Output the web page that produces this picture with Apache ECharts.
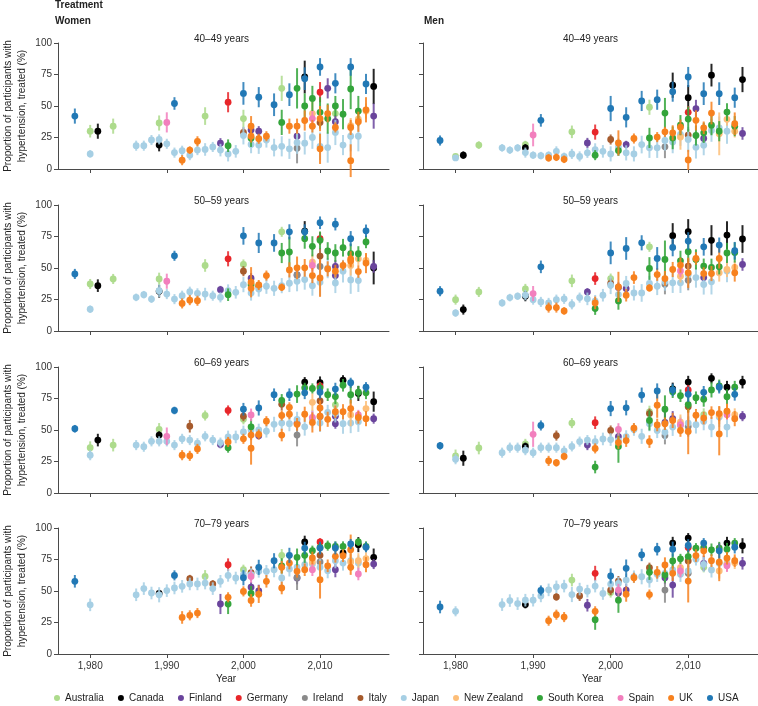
<!DOCTYPE html>
<html><head><meta charset="utf-8">
<script src="https://cdn.jsdelivr.net/npm/echarts@6.0.0/dist/echarts.min.js"></script>
<style>html,body{margin:0;padding:0;background:#fff}#c{width:758px;height:706px}</style>
</head><body><div id="c"></div>
<script>
const countries = ['AUS','CAN','FIN','GER','IRL','ITA','JPN','NZL','KOR','ESP','UK','USA'];
const countryNames = ['Australia','Canada','Finland','Germany','Ireland','Italy','Japan','New Zealand','South Korea','Spain','UK','USA'];
const countryColors = ['#addb8c','#000000','#6a449c','#e8262a','#8a8a8a','#a65a2c','#a6cfe4','#fdbe78','#33a43a','#f27fbd','#f7811e','#2178b5'];
const xTicks = [1980,1990,2000,2010];
const ageTitles = ['40–49 years','50–59 years','60–69 years','70–79 years'];

// [country, year, proportion treated (%), half-width of uncertainty]
const women4049 = [
['USA',1978,42,6],['JPN',1980,12,3],['AUS',1980,30,5],['CAN',1981,30,6],['AUS',1983,34,6],
['JPN',1986,18.5,4],['JPN',1987,18.5,4],['JPN',1988,23,4],['JPN',1989,23.5,4],['AUS',1989,36.5,6],['CAN',1989,19,5],
['ESP',1990,37,8],['JPN',1990,20,4],['USA',1991,52,5],['JPN',1991,13,4],['UK',1992,7,4],['JPN',1992,14.5,4],
['UK',1993,15,3],['JPN',1993,11,4],['UK',1994,22,4],['JPN',1994,15,4],['AUS',1995,42,7],['JPN',1995,15.5,5],
['JPN',1996,17.5,4],['FIN',1997,20.5,4],['JPN',1997,15,5],['GER',1998,53,8],['KOR',1998,18.5,5],['JPN',1998,12,6],
['JPN',1999,14,5],['USA',2000,60,9],['AUS',2000,40,7],['ITA',2000,29,4],['JPN',2000,26.5,7],
['UK',2001,34,8],['UK',2001,26,5],['FIN',2001,31,5],['KOR',2001,24.5,7],['JPN',2001,19.5,7],
['USA',2002,57,8],['FIN',2002,30,4],['UK',2002,24,4],['JPN',2002,19,7],['UK',2003,26,4],['JPN',2003,23,6],
['USA',2004,51,9],['JPN',2004,17,7],['AUS',2005,64,10],['KOR',2005,37,10],['JPN',2005,18,8],
['USA',2006,59,9],['UK',2006,34,6],['JPN',2006,16,8],['KOR',2007,64,16],['FIN',2007,26,5],['UK',2007,34,6],['IRL',2007,16.5,12],['JPN',2007,21,9],
['CAN',2008,73,13],['USA',2008,71.7,9],['KOR',2008,50,10],['UK',2008,38.5,8],['JPN',2008,20.5,9],
['KOR',2009,56,10],['NZL',2009,44,10],['ESP',2009,40,6],['UK',2009,34,5],['JPN',2009,25,9],
['USA',2010,81,7],['GER',2010,61,8],['KOR',2010,45,12],['UK',2010,40,10],['ITA',2010,37,5],['UK',2010,16,12],['JPN',2010,18,11],
['FIN',2011,64,8],['KOR',2011,40,12],['UK',2011,44,7],['JPN',2011,17,12],
['USA',2012,68,8],['KOR',2012,50,8],['AUS',2012,44,8],['FIN',2012,37.5,5],['UK',2012,33,4],['JPN',2012,29,10],
['KOR',2013,43.5,12],['JPN',2013,19,8],
['USA',2014,81,7],['KOR',2014,63.5,16],['NZL',2014,34.5,6],['UK',2014,33,6],['UK',2014,6.6,13],['JPN',2014,26,12],
['KOR',2015,46,12],['NZL',2015,39.5,4],['UK',2015,37.5,8],['JPN',2015,26,12],
['USA',2016,67.5,8],['NZL',2016,46,6],['UK',2016,47,10],['CAN',2017,65.5,14],['FIN',2017,42,10]
];
const men4049 = [
['USA',1978,22.6,4],['JPN',1980,8.8,2],['AUS',1980,10,2],['CAN',1981,11,3],['AUS',1983,19,3],
['JPN',1986,16.8,3],['JPN',1987,15,3],['JPN',1988,16.8,3],['AUS',1989,19.4,3],['CAN',1989,16.8,3],['JPN',1989,13,4],
['ESP',1990,27,9],['JPN',1990,11,3],['USA',1991,38.6,5],['JPN',1991,10.6,3],['UK',1992,8.8,3],['JPN',1992,11,3],
['UK',1993,9.3,3],['JPN',1993,14,4],['UK',1994,7.7,3],['JPN',1994,10,3],['AUS',1995,29.5,5],['JPN',1995,12,4],
['JPN',1996,10,4],['FIN',1997,20.7,4],['JPN',1997,12.8,4],['GER',1998,29.3,6],['KOR',1998,11,4],['JPN',1998,15.4,5],
['JPN',1999,14,5],['USA',2000,48,10],['ITA',2000,23.4,4],['JPN',2000,12,6],['UK',2001,20.7,10],['KOR',2001,14.6,4],['JPN',2001,17.3,7],
['USA',2002,41,8],['FIN',2002,19.4,3],['JPN',2002,12.8,6],['UK',2003,24.2,4],['JPN',2003,12,6],['USA',2004,54,8],['JPN',2004,19.4,7],
['AUS',2005,49,6],['KOR',2005,24.7,8],['JPN',2005,16.8,8],['USA',2006,55,8],['UK',2006,25.3,4],['JPN',2006,16.8,8],
['KOR',2007,44.4,12],['UK',2007,29.5,4],['JPN',2007,22.6,8],['IRL',2007,17.6,9],
['CAN',2008,66.5,10],['USA',2008,61.4,8],['UK',2008,28.7,6],['KOR',2008,24.7,9],['JPN',2008,21.5,9],
['KOR',2009,34.8,8],['UK',2009,33.2,6],['NZL',2009,25.3,10],['JPN',2009,27.4,9],
['USA',2010,73,8],['CAN',2010,56.6,10],['GER',2010,45,5],['KOR',2010,39.6,10],['ITA',2010,26.9,5],['UK',2010,7.2,8],['JPN',2010,23.4,10],
['FIN',2011,47.9,7],['UK',2011,38.6,8],['KOR',2011,26.6,8],['JPN',2011,17.3,9],
['USA',2012,59.8,9],['UK',2012,32.7,5],['KOR',2012,28.7,8],['FIN',2012,24.2,5],['JPN',2012,18.9,8],
['CAN',2013,74.5,9],['UK',2013,44.4,9],['KOR',2013,34.8,8],['JPN',2013,30.6,9],
['USA',2014,59.8,9],['JPN',2014,32.7,9],['KOR',2014,30,8],['NZL',2014,27.9,17],
['KOR',2015,45.2,7],['NZL',2015,39.4,5],['JPN',2015,30,10],
['USA',2016,56.6,8],['UK',2016,35.9,9],['KOR',2016,34,8],['NZL',2016,30,5],['CAN',2017,71,10],['FIN',2017,28.2,5]
];
const women5059 = [
['USA',1978,45.3,4],['AUS',1980,37.3,4],['JPN',1980,17.3,3],['CAN',1981,36,5],['AUS',1983,41.3,4],
['JPN',1986,26.7,3],['JPN',1987,28.8,3],['JPN',1988,25.3,3],['AUS',1989,41.3,5],['JPN',1989,32,5],['CAN',1989,31.5,5],
['ESP',1990,39.5,6],['JPN',1990,29.3,4],['USA',1991,59.7,4],['JPN',1991,25.3,4],['UK',1992,21.9,4],['JPN',1992,28,4],
['UK',1993,24.5,4],['JPN',1993,31.2,4],['UK',1994,24,4],['JPN',1994,29.9,4],['AUS',1995,52,5],['JPN',1995,29.3,5],
['JPN',1996,28,4],['FIN',1997,32.8,3],['JPN',1997,26.7,4],['GER',1998,57.3,6],['KOR',1998,28.8,5],['JPN',1998,32,5],
['JPN',1999,30.7,5],['USA',2000,75.5,7],['AUS',2000,52.8,4],['ITA',2000,47.5,4],['JPN',2000,36.8,6],
['FIN',2001,41.9,4],['KOR',2001,36.5,6],['UK',2001,38.7,12],['UK',2001,33.9,4],['JPN',2001,30.1,6],
['USA',2002,69.9,8],['UK',2002,36.5,4],['ITA',2002,35.5,3],['JPN',2002,33.3,6],['UK',2003,44,4],['JPN',2003,35.5,6],
['USA',2004,69.9,7],['JPN',2004,33.9,6],['AUS',2005,78.7,4],['KOR',2005,61.9,8],['UK',2005,34.7,3],['JPN',2005,36,6],
['USA',2006,78.7,6],['KOR',2006,62.7,12],['UK',2006,48.5,6],['JPN',2006,37.9,7],
['IRL',2007,44.5,6],['FIN',2007,44.5,5],['UK',2007,50.1,9],['JPN',2007,39.5,8],
['CAN',2008,79.2,8],['USA',2008,78.7,6],['KOR',2008,73.3,8],['UK',2008,50.1,7],['JPN',2008,40.8,8],
['KOR',2009,67.2,8],['NZL',2009,54.7,6],['ESP',2009,52,5],['UK',2009,44,6],['JPN',2009,36,8],
['USA',2010,85.9,5],['GER',2010,73.3,5],['KOR',2010,72,7],['ITA',2010,59.5,6],['IRL',2010,51.2,8],['UK',2010,42.1,15],['JPN',2010,38.7,11],
['KOR',2011,63.5,7],['JPN',2011,49.9,8],['UK',2011,49.3,6],
['USA',2012,84.8,5],['KOR',2012,61.9,7],['FIN',2012,51.2,5],['UK',2012,47.5,5],['FIN',2012,44,4],['JPN',2012,38.1,8],
['KOR',2013,66.1,7],['UK',2013,52,4],['JPN',2013,47.5,9],
['USA',2014,73.3,6],['KOR',2014,61.3,8],['UK',2014,57.3,6],['UK',2014,55.5,5],['NZL',2014,52,8],['JPN',2014,40.5,11],
['KOR',2015,61.3,6],['NZL',2015,57.3,5],['UK',2015,47.2,5],['JPN',2015,40,9],
['USA',2016,79.5,5],['KOR',2016,70.7,5],['NZL',2016,56,5],['UK',2016,53.9,8],['CAN',2017,50,13],['FIN',2017,51.2,5]
];
const men5059 = [
['USA',1978,31.6,4],['AUS',1980,24.9,4],['JPN',1980,14.3,3],['CAN',1981,17,4],['AUS',1983,31,4],
['JPN',1986,22.3,3],['JPN',1987,26.5,3],['JPN',1988,27.6,3],['AUS',1989,33.4,4],['CAN',1989,27.6,4],['JPN',1989,28.4,4],
['ESP',1990,29.7,6],['JPN',1990,24.9,4],['USA',1991,50.9,5],['JPN',1991,23.1,4],['UK',1992,18.6,4],['JPN',1992,22.3,4],
['UK',1993,18.6,4],['JPN',1993,24.9,4],['UK',1994,15.9,3],['JPN',1994,25.5,4],['AUS',1995,39.8,5],['JPN',1995,21.2,4],
['JPN',1996,26.5,4],['FIN',1997,31,3],['JPN',1997,25.5,5],['GER',1998,41.6,5],['KOR',1998,17.8,5],['UK',1998,22.3,5],['JPN',1998,23.6,5],
['JPN',1999,28.4,5],['USA',2000,62,9],['AUS',2000,41.6,4],['ITA',2000,37.7,4],['JPN',2000,36.3,7],
['UK',2001,35,12],['KOR',2001,23.9,7],['FIN',2001,34.5,4],['JPN',2001,28.9,6],
['USA',2002,65.5,9],['FIN',2002,33.7,3],['UK',2002,28.4,5],['JPN',2002,37.7,6],['UK',2003,42.4,5],['JPN',2003,30.2,6],
['USA',2004,70,6],['JPN',2004,30.2,7],['AUS',2005,66.8,4],['KOR',2005,49.6,9],['UK',2005,34.2,3],['JPN',2005,37.7,6],
['USA',2006,57.6,9],['UK',2006,44.8,5],['JPN',2006,35.5,7],
['KOR',2007,56.8,15],['UK',2007,41.6,6],['IRL',2007,37.1,8],['JPN',2007,39,7],
['CAN',2008,75.6,10],['USA',2008,66.3,7],['UK',2008,48.8,6],['JPN',2008,38.2,8],
['KOR',2009,55.7,8],['UK',2009,52.3,6],['ESP',2009,47.7,5],['NZL',2009,43.5,5],['JPN',2009,38.2,8],
['CAN',2010,78.8,10],['USA',2010,71.4,7],['KOR',2010,62.9,8],['ITA',2010,51.5,6],['UK',2010,46.2,12],['IRL',2010,40.3,8],['JPN',2010,44.8,8],
['KOR',2011,56.8,8],['UK',2011,57.6,5],['JPN',2011,42.4,8],
['USA',2012,66.8,7],['KOR',2012,51.5,6],['UK',2012,45.6,5],['FIN',2012,42.4,5],['JPN',2012,36.9,8],
['CAN',2013,72,12],['KOR',2013,50.4,7],['UK',2013,45.6,6],['JPN',2013,39,10],
['USA',2014,68.2,6],['UK',2014,57.6,8],['KOR',2014,50.9,6],['NZL',2014,46.2,7],
['CAN',2015,76.1,11],['KOR',2015,62,8],['NZL',2015,48.8,6],['JPN',2015,47.7,9],
['USA',2016,63.7,7],['KOR',2016,62.3,8],['NZL',2016,50.4,5],['UK',2016,46.2,7],['CAN',2017,73,11],['FIN',2017,52.8,5]
];
const women6069 = [
['USA',1978,51,3],['AUS',1980,36,5],['JPN',1980,30,4],['CAN',1981,42,5],['AUS',1983,38,5],
['JPN',1986,38,4],['JPN',1987,36.7,4],['JPN',1988,41,4],['AUS',1989,50.5,5],['CAN',1989,46,3],['JPN',1989,41,4],
['ESP',1990,45,7],['JPN',1990,41,4],['USA',1991,65.5,3],['JPN',1991,38,4],['UK',1992,30,4],['JPN',1992,43,4],
['ITA',1993,53,5],['UK',1993,29.5,4],['JPN',1993,42,4],['UK',1994,35,4],['JPN',1994,39.5,4],['AUS',1995,61.5,4],['JPN',1995,45,4],
['JPN',1996,42,4],['FIN',1997,38.5,3],['JPN',1997,40,4],['GER',1998,65.5,4],['KOR',1998,36,4],['UK',1998,40.5,4],['JPN',1998,44.5,5],
['JPN',1999,44.5,5],['USA',2000,66.5,5],['AUS',2000,58.5,4],['ITA',2000,61,4],['UK',2000,43,4],['JPN',2000,48.5,5],
['ESP',2001,62,5],['KOR',2001,52.5,6],['UK',2001,35.5,13],['UK',2001,46,4],['JPN',2001,50,5],
['USA',2002,67.5,6],['FIN',2002,45.5,3],['UK',2002,46.5,4],['JPN',2002,50,5],['UK',2003,57,4],['JPN',2003,49,5],
['USA',2004,78,5],['JPN',2004,54.5,6],['KOR',2005,73.5,5],['ITA',2005,70.5,5],['UK',2005,61.5,4],['UK',2005,46,5],['JPN',2005,55.5,6],
['USA',2006,78,5],['UK',2006,68,4],['UK',2006,62.5,4],['JPN',2006,55,6],
['KOR',2007,78.5,7],['FIN',2007,55.5,4],['UK',2007,54.5,5],['IRL',2007,46,9],['JPN',2007,58.5,6],
['CAN',2008,88,4],['KOR',2008,83.5,4],['USA',2008,79.5,5],['UK',2008,62.5,6],['JPN',2008,52.5,7],
['KOR',2009,83,4],['NZL',2009,72,7],['ESP',2009,60,5],['UK',2009,56,8],['JPN',2009,59,7],
['CAN',2010,87.5,5],['GER',2010,85,3],['KOR',2010,83.5,4],['USA',2010,80,5],['ITA',2010,73,5],['UK',2010,67.5,6],['UK',2010,61,12],['IRL',2010,60.5,6],['JPN',2010,55.5,7],
['KOR',2011,78,5],['UK',2011,58.5,6],['JPN',2011,64,6],
['USA',2012,82.5,5],['KOR',2012,76.5,6],['AUS',2012,70,5],['UK',2012,64.5,5],['FIN',2012,61,5],['FIN',2012,55,4],['JPN',2012,63,7],
['CAN',2013,89.5,4],['KOR',2013,85.5,5],['UK',2013,64.5,6],['JPN',2013,55,8],
['USA',2014,87.5,4],['KOR',2014,78,7],['UK',2014,67,7],['NZL',2014,62,9],['JPN',2014,55.5,8],
['CAN',2015,79,6],['KOR',2015,80,5],['ESP',2015,62,4],['UK',2015,60,5],['JPN',2015,56.5,8],
['USA',2016,84,4],['KOR',2016,79.5,5],['NZL',2016,67,6],['UK',2016,59,6],['CAN',2017,72.5,8],['FIN',2017,59,4]
];
const men6069 = [
['USA',1978,37.5,3],['AUS',1980,29.5,5],['JPN',1980,26.8,4],['CAN',1981,27.6,6],['AUS',1983,35.7,5],
['JPN',1986,32,4],['JPN',1987,36,4],['JPN',1988,36,4],['AUS',1989,39,4],['CAN',1989,37,3],['JPN',1989,34,4],
['ESP',1990,46.6,10],['JPN',1990,32,4],['USA',1991,53.6,4],['JPN',1991,36,4],['UK',1992,25.5,4],['JPN',1992,36,4],
['ITA',1993,45.6,4],['UK',1993,24,3],['JPN',1993,36,4],['UK',1994,29,3],['JPN',1994,33.5,4],['AUS',1995,55.5,4],['JPN',1995,37,4],
['JPN',1996,40.8,4],['FIN',1997,38,4],['JPN',1997,42,4],['GER',1998,55.8,5],['KOR',1998,20.6,5],['UK',1998,35.4,4],['JPN',1998,40.8,5],
['JPN',1999,42.9,5],['USA',2000,67,6],['ITA',2000,49.6,4],['JPN',2000,42.4,5],
['ESP',2001,50.4,5],['FIN',2001,44.8,4],['KOR',2001,37,13],['UK',2001,40,5],['JPN',2001,41.6,5],
['USA',2002,67.6,6],['UK',2002,41.6,5],['JPN',2002,44.8,5],['UK',2003,51.5,4],['JPN',2003,50.4,5],
['USA',2004,77.7,6],['JPN',2004,45,6],['AUS',2005,64.3,5],['ITA',2005,63,4],['KOR',2005,57.6,8],['UK',2005,40.8,5],['JPN',2005,55,6],
['USA',2006,81,6],['UK',2006,69.7,10],['UK',2006,54,5],['JPN',2006,49.6,6],
['KOR',2007,66.5,11],['FIN',2007,56,10],['UK',2007,55,5],['IRL',2007,45.6,7],['JPN',2007,48.3,6],
['CAN',2008,82.6,5],['USA',2008,81.8,5],['KOR',2008,80.4,5],['FIN',2008,59,6],['UK',2008,57.6,6],['JPN',2008,52.3,7],
['KOR',2009,77.2,5],['NZL',2009,56.3,6],['ESP',2009,54.2,5],['UK',2009,49.6,5],['JPN',2009,53.6,7],
['CAN',2010,88,5],['GER',2010,81.8,4],['USA',2010,78.3,6],['KOR',2010,70.2,6],['ITA',2010,68.4,5],['IRL',2010,52.8,8],['UK',2010,48.8,18],['JPN',2010,55.5,8],
['KOR',2011,75.6,5],['UK',2011,61.7,5],['JPN',2011,54.2,7],
['USA',2012,79.9,5],['KOR',2012,74.5,6],['AUS',2012,62.2,5],['UK',2012,59.5,5],['JPN',2012,56.8,7],
['CAN',2013,91,4],['KOR',2013,81.8,6],['UK',2013,63.8,5],['JPN',2013,52.3,8],
['USA',2014,84,5],['KOR',2014,85,5],['UK',2014,63,6],['NZL',2014,61.7,7],['UK',2014,46.9,17],['JPN',2014,60.3,8],
['CAN',2015,84,5],['KOR',2015,76.4,6],['UK',2015,64.9,6],['NZL',2015,64.3,6],['ESP',2015,62.2,4],['JPN',2015,52.3,8],
['KOR',2016,84,5],['USA',2016,78.3,5],['NZL',2016,62.2,5],['UK',2016,59,6],['CAN',2017,88,5],['FIN',2017,61,4]
];
const women7079 = [
['USA',1978,57.7,5],['JPN',1980,39,5],
['JPN',1986,47,5],['JPN',1987,51.9,5],['JPN',1988,48.4,5],['CAN',1989,48,3],['JPN',1989,47,6],['JPN',1990,50.3,5],
['USA',1991,62.4,4],['JPN',1991,52.4,5],['UK',1992,29,5],['JPN',1992,53.7,5],['ITA',1993,59.8,3],['UK',1993,30.7,4],['JPN',1993,55.6,5],
['UK',1994,32.5,4],['JPN',1994,55.6,5],['AUS',1995,61.6,5],['JPN',1995,56.3,5],['ITA',1996,55.6,3],['JPN',1996,51.9,5],
['FIN',1997,39.7,8],['JPN',1997,57.7,5],['GER',1998,70.9,5],['UK',1998,45,4],['KOR',1998,39.7,8],['JPN',1998,62.4,5],['JPN',1999,60.3,5],
['AUS',2000,66.9,4],['USA',2000,60.5,6],['UK',2000,49.7,4],['JPN',2000,63,5],
['ITA',2001,64.5,5],['ESP',2001,61.6,5],['FIN',2001,53,4],['KOR',2001,48,6],['UK',2001,42.5,5],['JPN',2001,63,5],
['USA',2002,68.8,6],['FIN',2002,50,5],['UK',2002,47.5,7],['JPN',2002,65.6,5],['UK',2003,57.7,5],['JPN',2003,65.6,5],
['USA',2004,74,6],['JPN',2004,66.9,6],['AUS',2005,78.3,5],['KOR',2005,70,6],['UK',2005,68.8,5],['UK',2005,52.4,5],['JPN',2005,60.3,6],
['USA',2006,78.3,6],['UK',2006,72.2,5],['JPN',2006,67.5,6],
['KOR',2007,76.7,7],['UK',2007,65.6,5],['IRL',2007,60.8,10],['FIN',2007,60.3,5],['JPN',2007,69,6],
['CAN',2008,88.9,5],['USA',2008,84.1,5],['KOR',2008,78.3,6],['UK',2008,66.9,5],['JPN',2008,70.9,6],
['KOR',2009,82,4],['UK',2009,76.2,5],['NZL',2009,73,6],['ESP',2009,66.9,5],['JPN',2009,71.4,6],
['GER',2010,88.9,3],['USA',2010,84.1,5],['KOR',2010,84.6,4],['ITA',2010,78.3,5],['IRL',2010,73,6],['UK',2010,59,15],['JPN',2010,68.8,7],
['KOR',2011,86,4],['UK',2011,70,5],['JPN',2011,66.1,6],
['USA',2012,84.1,5],['KOR',2012,85.4,4],['UK',2012,77.5,5],['JPN',2012,74,6],['FIN',2012,66.9,6],
['CAN',2013,80.2,4],['KOR',2013,85.4,4],['UK',2013,78,5],['JPN',2013,72.2,6],
['USA',2014,87.3,4],['UK',2014,82.8,12],['UK',2014,68.8,6],['NZL',2014,73,7],['JPN',2014,74,6],
['CAN',2015,86.8,6],['KOR',2015,88.9,3],['NZL',2015,74,6],['ESP',2015,63.5,5],['JPN',2015,72.2,6],
['USA',2016,84.7,4],['KOR',2016,85.4,4],['NZL',2016,75.7,5],['UK',2016,70.9,6],['CAN',2017,76.7,7],['FIN',2017,71.4,4]
];
const men7079 = [
['USA',1978,37.3,5],['JPN',1980,33.9,4],
['JPN',1986,39.2,5],['JPN',1987,42.4,5],['JPN',1988,40,5],['CAN',1989,39.2,3],['JPN',1989,42.7,5],['JPN',1990,42.7,5],
['USA',1991,50.4,4],['JPN',1991,46.1,5],['UK',1992,26.4,4],['JPN',1992,50.9,5],['ITA',1993,45.3,3],['UK',1993,31.2,4],['JPN',1993,53.3,5],
['UK',1994,29.3,4],['JPN',1994,53.9,5],['AUS',1995,58.7,5],['JPN',1995,47.2,6],['ITA',1996,46.1,4],['JPN',1996,51.5,5],
['FIN',1997,38.7,5],['JPN',1997,49.9,5],['GER',1998,64,6],['UK',1998,33.9,4],['KOR',1998,27.2,8],['JPN',1998,53.9,5],['JPN',1999,48,5],
['USA',2000,61.9,6],['ITA',2000,50.7,4],['AUS',2000,48.8,4],['JPN',2000,55.5,5],
['ITA',2001,57.9,4],['ESP',2001,50.7,5],['FIN',2001,48.5,5],['KOR',2001,42.7,10],['JPN',2001,56,5],
['USA',2002,68,7],['FIN',2002,50.7,5],['UK',2002,47.5,6],['JPN',2002,58.7,5],['UK',2003,60.5,4],['JPN',2003,61.3,5],
['USA',2004,78.7,5],['JPN',2004,61.3,6],['ITA',2005,68.5,4],['KOR',2005,64.8,6],['UK',2005,47.2,4],['JPN',2005,58.7,6],
['USA',2006,83.2,5],['UK',2006,64.8,5],['JPN',2006,63.2,6],
['UK',2007,70.7,6],['KOR',2007,62.7,6],['FIN',2007,60.5,5],['IRL',2007,50.7,10],['JPN',2007,64,6],
['CAN',2008,88,5],['USA',2008,83.2,6],['KOR',2008,73.9,6],['UK',2008,64,6],['FIN',2008,54.7,10],['JPN',2008,66.7,6],
['KOR',2009,75.5,4],['NZL',2009,68.5,6],['ESP',2009,65.9,5],['JPN',2009,63.2,6],
['CAN',2010,92,4],['USA',2010,86.1,5],['GER',2010,84.5,4],['KOR',2010,77.3,5],['ITA',2010,73.9,5],['IRL',2010,64,6],['UK',2010,57.9,17],['JPN',2010,65.9,6],
['KOR',2011,84,4],['UK',2011,78.1,5],['JPN',2011,75.2,5],
['USA',2012,88,4],['KOR',2012,84.5,4],['UK',2012,81.9,5],['FIN',2012,72,6],['AUS',2012,68.8,4],['JPN',2012,71.2,6],
['KOR',2013,82.7,5],['UK',2013,74.1,5],['JPN',2013,66.7,6],
['USA',2014,81.9,6],['KOR',2014,84,5],['UK',2014,72.8,15],['NZL',2014,65.9,6],['JPN',2014,72,6],
['CAN',2015,88,5],['KOR',2015,83.2,5],['UK',2015,76,5],['NZL',2015,71.2,5],['ESP',2015,70.1,5],['JPN',2015,72,6],
['USA',2016,84.8,5],['KOR',2016,88,4],['UK',2016,74.1,5],['NZL',2016,72.5,5],['CAN',2017,85.9,6],['FIN',2017,72,5]
];

const panels = [women4049, men4049, women5059, men5059, women6069, men6069, women7079, men7079];

const FONT = '"Liberation Sans", Arial, sans-serif';
const AX = '#4a4a4a';
const rowTops = [43, 205, 367, 528];
const colLefts = [54, 423];
const gridW = 335, gridH = 126;

const grids = [], xAxes = [], yAxes = [], series = [], graphics = [];
panels.forEach((rows, i) => {
  const col = i % 2, row = Math.floor(i / 2);
  grids.push({left: colLefts[col], top: rowTops[row], width: gridW, height: gridH});
  xAxes.push({
    type: 'value', gridIndex: i, min: 1975.8, max: 2019,
    splitLine: {show: false},
    axisLine: {show: true, onZero: false, lineStyle: {color: AX, width: 1}},
    axisTick: {show: true, length: 4, customValues: xTicks, lineStyle: {color: AX}},
    axisLabel: {show: row === 3, customValues: xTicks, fontSize: 10, color: '#333', fontFamily: FONT, margin: 7}
  });
  yAxes.push({
    type: 'value', gridIndex: i, min: 0, max: 100, interval: 25,
    splitLine: {show: false},
    axisLine: {show: true, lineStyle: {color: AX, width: 1}},
    axisTick: {show: true, length: 4, lineStyle: {color: AX}},
    axisLabel: {show: col === 0, fontSize: 10, color: '#333', fontFamily: FONT, margin: 6},
    name: col === 0 ? 'Proportion of participants with\nhypertension, treated (%)' : '',
    nameLocation: 'middle', nameGap: 29,
    nameTextStyle: {fontSize: 10, lineHeight: 14, color: '#222', fontFamily: FONT}
  });
  countries.forEach((code, ci) => {
    const d = rows.filter(r => r[0] === code).map(r => [r[1], r[2], r[3]]);
    series.push({
      type: 'custom', name: countryNames[ci], xAxisIndex: i, yAxisIndex: i,
      itemStyle: {color: countryColors[ci]},
      encode: {x: 0, y: 1},
      data: d,
      renderItem: function (params, api) {
        const x = api.value(0), v = api.value(1), e = api.value(2);
        const p = api.coord([x, v]);
        const lo = api.coord([x, v - e]);
        const hi = api.coord([x, v + e]);
        const color = api.visual('color');
        return {type: 'group', children: [
          {type: 'line', shape: {x1: p[0], y1: lo[1], x2: p[0], y2: hi[1]}, style: {stroke: color, lineWidth: 2, opacity: 0.85}},
          {type: 'circle', shape: {cx: p[0], cy: p[1], r: 3.4}, style: {fill: color}}
        ]};
      }
    });
  });
  graphics.push({type: 'text', x: colLefts[col] + gridW / 2, y: rowTops[row] - 4,
    style: {text: ageTitles[row], font: '10px ' + FONT, fill: '#222', textAlign: 'center', textVerticalAlign: 'middle'}});
});
graphics.push({type: 'text', x: 55, y: 5, style: {text: 'Treatment', font: 'bold 10px ' + FONT, fill: '#222', textAlign: 'left', textVerticalAlign: 'middle'}});
graphics.push({type: 'text', x: 55, y: 21, style: {text: 'Women', font: 'bold 10px ' + FONT, fill: '#222', textAlign: 'left', textVerticalAlign: 'middle'}});
graphics.push({type: 'text', x: 424, y: 21, style: {text: 'Men', font: 'bold 10px ' + FONT, fill: '#222', textAlign: 'left', textVerticalAlign: 'middle'}});
graphics.push({type: 'text', x: 226, y: 679, style: {text: 'Year', font: '10px ' + FONT, fill: '#222', textAlign: 'center', textVerticalAlign: 'middle'}});
graphics.push({type: 'text', x: 592, y: 679, style: {text: 'Year', font: '10px ' + FONT, fill: '#222', textAlign: 'center', textVerticalAlign: 'middle'}});

const chart = echarts.init(document.getElementById('c'), null, {renderer: 'canvas'});
chart.setOption({
  animation: false,
  backgroundColor: '#fff',
  grid: grids, xAxis: xAxes, yAxis: yAxes, series: series,
  graphic: graphics,
  legend: {
    data: countryNames.map((n, k) => ({name: n, icon: 'circle', itemStyle: {color: countryColors[k]}})),
    left: 54, top: 693, padding: 0, itemWidth: 6, itemHeight: 6, itemGap: 14,
    textStyle: {fontSize: 10, color: '#222', fontFamily: FONT}
  }
});
</script></body></html>
